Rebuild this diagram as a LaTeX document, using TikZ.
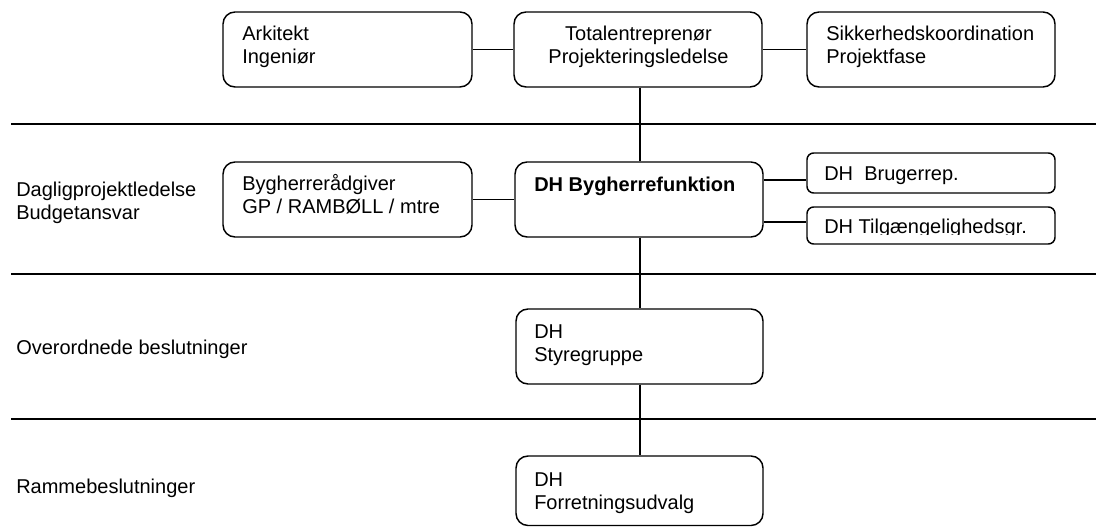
\documentclass[tikz,border=0pt]{standalone}
\usepackage{fontspec}
\setmainfont{Liberation Sans}
\usetikzlibrary{fit}
% first row of a [t] tabular carries the baseline
\newcommand\leftlines[1]{\begin{tabular}[t]{@{}l@{}}#1\end{tabular}}
\newcommand\midlines[1]{\begin{tabular}[t]{@{}c@{}}#1\end{tabular}}
\begin{document}
\begin{tikzpicture}[x=0.75pt,y=-0.75pt,
  box/.style={draw, line width=1.1pt, rounded corners=9pt, inner sep=0pt},
  smallbox/.style={box, rounded corners=5pt},
  lbl/.style={inner sep=0pt, font=\fontsize{15}{17.25}\selectfont},
  link/.style={line width=1pt},
  sep/.style={line width=1.2pt}]
\useasboundingbox (0,0) rectangle (1096,527);

% level separators
\draw[sep] (11,124) -- (1096,124);
\draw[sep] (11,274) -- (1096,274);
\draw[sep] (11,419) -- (1096,419);

% boxes
\node[box, fit={(223,12)(472,87)}] (ark) {};
\node[box, fit={(514,12)(762,87)}] (tot) {};
\node[box, fit={(807,12)(1055,87)}] (sik) {};
\node[box, fit={(223,162)(472,237)}] (byr) {};
\node[box, fit={(515,162)(763,237)}] (dhb) {};
\node[smallbox, fit={(807,153)(1055,193)}] (bru) {};
\node[smallbox, fit={(807,207)(1055,244)}] (til) {};
\node[box, fit={(516,309)(763,384)}] (sty) {};
\node[box, fit={(516,456)(763,525.5)}] (for) {};

% connectors
\coordinate (xc) at (640,0);
\coordinate (ybru) at (0,180);
\coordinate (ytil) at (0,222);
\draw[link] (ark.east) -- (tot.west);
\draw[link] (tot.east) -- (sik.west);
\draw[link] (byr.east) -- (dhb.west);
\draw[link] (tot.south -| xc) -- (dhb.north -| xc);
\draw[link] (dhb.south -| xc) -- (sty.north -| xc);
\draw[link] (sty.south -| xc) -- (for.north -| xc);
\draw[link] (dhb.east |- ybru) -- (bru.west |- ybru);
\draw[link] (dhb.east |- ytil) -- (til.west |- ytil);

% box texts
\node[lbl, anchor=base west] (tark) at (242,41) {\leftlines{Arkitekt\\Ingeniør}};
\node[lbl, anchor=base] (ttot) at (638.5,41) {\midlines{Totalentreprenør\\Projekteringsledelse}};
\node[lbl, anchor=base west] (tsik) at (826,41) {\leftlines{Sikkerhedskoordination\\Projektfase}};
\node[lbl, anchor=base west] (tbyr) at (242,191) {\leftlines{Bygherrerådgiver\\GP / RAMBØLL / mtre}};
\node[lbl, anchor=base west, font=\fontsize{15}{17.25}\selectfont\bfseries] (tdhb) at (534,192) {DH Bygherrefunktion};
\node[lbl, anchor=base west] (tbru) at (824,181) {DH\ \ Brugerrep.};
\begin{scope}
  \clip (807,207) rectangle (1055,234.5);
  \node[lbl, anchor=base west] (ttil) at (824,233.3) {DH Tilgængelighedsgr.};
\end{scope}
\node[lbl, anchor=base west] (tsty) at (534,339) {\leftlines{DH\\Styregruppe}};
\node[lbl, anchor=base west] (tfor) at (534,486) {\leftlines{DH\\Forretningsudvalg}};

% level labels
\node[lbl, anchor=base west] (ldag) at (16,197) {\leftlines{Dagligprojektledelse\\Budgetansvar}};
\node[lbl, anchor=base west] (love) at (16,354) {Overordnede beslutninger};
\node[lbl, anchor=base west] (lram) at (16,493) {Rammebeslutninger};
\end{tikzpicture}
\end{document}
